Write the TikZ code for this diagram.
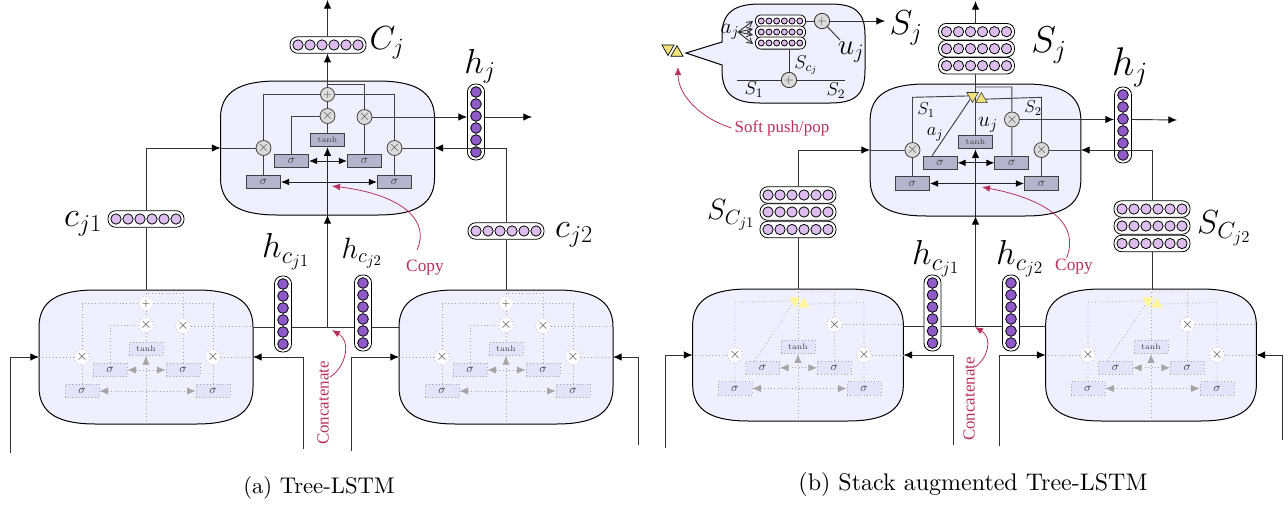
\RequirePackage{fix-cm}
\documentclass[tikz,border=0pt]{standalone}
\usepackage{fontspec}
\usetikzlibrary{arrows.meta,shapes.geometric,calc}
\newfontfamily\tms{Liberation Serif}
\definecolor{cellbg}{HTML}{EEF0FF}
\definecolor{lila}{HTML}{DDBDEE}
\definecolor{purp}{HTML}{8E5BC9}
\definecolor{pinkc}{HTML}{B8305F}
\definecolor{sigfill}{HTML}{B4B4CC}
\definecolor{sigfade}{HTML}{E2E5FA}
\definecolor{yel}{HTML}{F0E27A}
\definecolor{yelfade}{HTML}{FFF59A}
\tikzset{
  x=0.75pt,y=-0.75pt,
  tip/.style={-{Latex[length=6.5pt,width=5.6pt,black]}},
  ln/.style={line width=0.7pt,draw=black!80},
  conn/.style={ln,tip},
  cellbody/.style={draw=black,line width=0.75pt,fill=cellbg},
  live/.style={
    wire/.style={line width=0.7pt,draw=black!75},
    dblw/.style={line width=0.7pt,draw=black!85,{Latex[length=6pt,width=5pt,black]}-{Latex[length=6pt,width=5pt,black]}},
    upw/.style={line width=0.7pt,draw=black!85,-{Latex[length=6.5pt,width=5.6pt,black]}},
    opn/.style={circle,draw=black!75,fill=black!14,line width=0.6pt,inner sep=0,minimum size=10.5pt,text=black!70,font=\fontsize{11}{11}\selectfont},
    opnp/.style={opn,font=\fontsize{8}{8}\selectfont},
    sig/.style={draw=black!75,fill=sigfill,line width=0.8pt,inner sep=0,minimum width=25.5pt,minimum height=10pt,text=black!75,font=\fontsize{9}{9}\selectfont},
    tanhbox/.style={sig,font=\fontsize{6}{6}\selectfont},
    triD/.style={regular polygon,regular polygon sides=3,shape border rotate=180,draw=black!80,fill=yel,line width=0.4pt,inner sep=0,minimum size=10pt},
    triU/.style={regular polygon,regular polygon sides=3,draw=black!80,fill=yel,line width=0.4pt,inner sep=0,minimum size=10pt}},
  fade/.style={
    wire/.style={line width=0.6pt,draw=black!35,dotted},
    dblw/.style={line width=0.6pt,draw=black!35,dotted,{Latex[length=6.5pt,width=5.5pt,fill=black!35,black!35]}-{Latex[length=6.5pt,width=5.5pt,fill=black!35,black!35]}},
    upw/.style={line width=0.6pt,draw=black!35,dotted,-{Latex[length=6.5pt,width=5.5pt,fill=black!35,black!35]}},
    opn/.style={circle,draw=black!35,dotted,fill=white,line width=0.5pt,inner sep=0,minimum size=10.5pt,text=black!75,font=\fontsize{11}{11}\selectfont},
    opnp/.style={opn,font=\fontsize{8}{8}\selectfont},
    sig/.style={draw=black!35,dotted,fill=sigfade,line width=0.5pt,inner sep=0,minimum width=25.5pt,minimum height=10pt,text=black!75,font=\fontsize{9}{9}\selectfont},
    tanhbox/.style={sig,font=\fontsize{6}{6}\selectfont},
    triD/.style={regular polygon,regular polygon sides=3,shape border rotate=180,fill=yelfade,inner sep=0,minimum size=10pt},
    triU/.style={regular polygon,regular polygon sides=3,fill=yelfade,inner sep=0,minimum size=10pt}},
  vecbox/.style={draw=black,fill=white,line width=0.6pt,rounded corners=#1,inner sep=0},
  vecbox/.default=5.9pt,
  dot/.style={circle,draw=black,line width=0.6pt,inner sep=0,minimum size=#1},
  mathlab/.style={inner sep=0,font=\fontsize{#1}{#1}\selectfont},
  mathlab/.default=26,
  pinktxt/.style={inner sep=0,text=pinkc,font=\fontsize{#1}{#1}\selectfont\tms},
  pinkarr/.style={draw=pinkc,line width=0.6pt,-{Latex[length=6pt,width=5pt]}},
  insetop/.style={circle,draw=black!80,fill=black!14,line width=0.6pt,inner sep=0,minimum size=11.5pt,text=black!70,font=\fontsize{9}{9}\selectfont},
  captxt/.style={inner sep=0,font=\fontsize{10}{12}\selectfont,scale=#1}
}
\pgfdeclarelayer{wires}
\pgfdeclarelayer{bodies}
% name, x, y, fill, spacing (px)
\newcommand\hvec[5]{%
  \node[vecbox={(#5+4.5)*0.35pt},minimum width={(6*#5+4)*0.75pt},minimum height={(#5+4.5)*0.75pt}] (#1) at (#2,#3) {};
  \foreach \i in {1,...,6}{\node[dot={(#5-1.7)*0.75pt},fill=#4] (#1c\i) at ($(#2,#3)+({(\i-3.5)*#5},0)$) {};}%
}
\newcommand\vvec[3]{%
  \node[vecbox,minimum width=12.8pt,minimum height=57pt] (#1) at (#2,#3) {};
  \foreach \i in {1,...,6}{\node[dot=8pt,fill=purp] (#1c\i) at ($(#2,#3)+(0,{(\i-3.5)*12})$) {};}%
}
% prefix,x,y,scale,type(0 plus / 1 stack)
\newcommand\lstmcell[5]{%
\begin{scope}[shift={(#2,#3)},scale=#4]
  \begin{pgfonlayer}{bodies}
  \path[cellbody] (-107,-30) .. controls (-107,-58) and (-85,-67) .. (-50,-67) -- (50,-67)
     .. controls (85,-67) and (107,-58) .. (107,-30) -- (107,30)
     .. controls (107,58) and (85,67) .. (50,67) -- (-50,67)
     .. controls (-85,67) and (-107,58) .. (-107,30) -- cycle;
  \end{pgfonlayer}
  \pgfmathsetmacro\cellw{214*#4*0.75}\pgfmathsetmacro\cellh{134*#4*0.75}
  \node[inner sep=0,outer sep=0,minimum width=\cellw pt,minimum height=\cellh pt] (#1) at (0,0) {};
  \coordinate (#1top) at (0,-53.5);
  \coordinate (#1hi) at (0,-64);
  \coordinate (#1r) at (107,0);
  \coordinate (#1l) at (-107,0);
  \coordinate (#1ro) at (107,-31);
  \coordinate (#1b) at (0,67);
  \coordinate (#1t) at (0,-67);
  \node[tanhbox] (#1tanh) at (0,-8) {tanh};
  \node[sig] (#1sil) at (-36,13) {$\sigma$};
  \node[sig] (#1sir) at (37,13) {$\sigma$};
  \node[sig] (#1sol) at (-64,34) {$\sigma$};
  \node[sig] (#1sor) at (67,34) {$\sigma$};
  \node[opn] (#1tl) at (-64,0) {$\times$};
  \node[opn] (#1tf) at (67,0) {$\times$};
  \node[opn] (#1tr) at (37,-31) {$\times$};
  \ifnum#5=0
    \node[opnp] (#1p) at (#1top) {$+$};
    \node[opn] (#1tt) at (0,-32) {$\times$};
  \else
    \node[triD] (#1pd) at (-3,-55) {};
    \node[triU] (#1pu) at (6,-51.5) {};
  \fi
  \begin{pgfonlayer}{wires}
    \draw[wire] (#1sol) -- (#1tl);
    \draw[wire] (#1sor) -- (#1tf);
    \draw[wire] (#1sir) -- (#1tr);
    \draw[wire] (#1tl) -- (#1l);
    \draw[wire] (#1tf) -- (#1r);
    \draw[wire] (#1tr) -- (#1ro);
    \draw[wire] (#1tr) -- (#1tr |- #1hi) -- (#1hi);
    \ifnum#5=0
      \draw[wire] (#1t) -- (#1p);
      \draw[wire] (#1p) -- (#1tt);
      \draw[wire] (#1tt) -- (#1tanh);
      \draw[wire] (#1sil) -- (#1sil |- #1tt) -- (#1tt);
      \draw[wire] (#1tl) -- (#1tl |- #1p) -- (#1p);
      \draw[wire] (#1tf) -- (#1tf |- #1p) -- (#1p);
    \else
      \draw[wire] (#1t) -- (#1tanh);
      \draw[wire] (#1tl) -- (#1tl |- #1top) -- (#1pd);
      \draw[wire] (#1tf) -- (#1tf |- #1top) -- (#1pu);
      \draw[wire] (#1sil.north) ++(-8,0) -- (#1pd);
    \fi
    \draw[dblw] (#1sil) -- (#1sir);
    \draw[dblw] (#1sol) -- (#1sor);
    \draw[upw] (#1b) -- (#1tanh);
  \end{pgfonlayer}
\end{scope}}
\begin{document}
\begin{tikzpicture}
\useasboundingbox (0,0) rectangle (1288,508);
\pgfsetlayers{bodies,wires,main}
% ---------- (a)
\begin{scope}[live]\lstmcell{A}{327.5}{148}{1}{0}\end{scope}
\begin{scope}[fade]\lstmcell{L}{146}{357}{1}{0}\lstmcell{R}{506}{357}{1}{0}\end{scope}
\hvec{Cj}{328}{45}{lila}{12}
\hvec{cone}{146}{219}{lila}{12}
\hvec{ctwo}{506}{231}{lila}{12}
\vvec{hj}{476}{122}
\vvec{hone}{283}{314}
\vvec{htwo}{363}{313}
\coordinate (topA) at (327.5,0);
\coordinate (joinA) at (327.5,327);
\coordinate (outA) at (532,117);
\coordinate (inLa) at (10,453);\coordinate (inLb) at (303,449);
\coordinate (inRa) at (351,451);\coordinate (inRb) at (638,445);
\draw[conn] (A.north -| topA) -- (Cj.south -| topA);
\draw[conn] (Cj.north -| topA) -- (topA);
\draw[conn] (joinA) -- (A.south -| topA);
\draw[ln] (cone.south) -- (L.north -| cone);
\draw[ln] (ctwo.south) -- (R.north -| ctwo);
\draw[conn] (cone.north) -- (cone.north |- A.west) -- (A.west);
\draw[conn] (ctwo.north) -- (ctwo.north |- A.east) -- (A.east);
\draw[conn] (A.east |- Atr) -- (hj.west |- Atr);
\draw[conn] (hj.east |- Atr) -- (outA);
\draw[ln] (L.east |- joinA) -- (hone.west |- joinA);
\draw[ln] (hone.east |- joinA) -- (htwo.west |- joinA);
\draw[ln] (htwo.east |- joinA) -- (R.west |- joinA);
\draw[conn] (inLa) -- (inLa |- L.west) -- (L.west);
\draw[conn] (inLb) -- (inLb |- L.east) -- (L.east);
\draw[conn] (inRa) -- (inRa |- R.west) -- (R.west);
\draw[conn] (inRb) -- (inRb |- R.east) -- (R.east);
\node[mathlab=25] (lCj) at (387,43) {$C_j$};
\node[mathlab] (lhj) at (480,66) {$h_j$};
\node[mathlab] (lc1) at (83,224) {$c_{j1}$};
\node[mathlab] (lc2) at (574,235) {$c_{j2}$};
\node[mathlab] (lh1) at (286,252) {$h_{c_{j1}}$};
\node[mathlab=22] (lh2) at (362,253) {$h_{c_{j2}}$};
\node[pinktxt=13] (tcopyA) at (425,268) {Copy};
\node[pinktxt=12.7,rotate=90] (tconcA) at (323,403) {Concatenate};
\coordinate (copyAstart) at (417,250);
\coordinate (copyAend) at (332,186);
\coordinate (concAstart) at (330,377);
\coordinate (concAend) at (332,330);
\draw[pinkarr] (copyAstart) .. controls (430,222) and (405,195) .. (copyAend);
\draw[pinkarr] (concAstart) .. controls (345,368) and (352,342) .. (concAend);
\node[captxt=1.7] (capa) at (319,488) {(a) Tree-LSTM};
% ---------- (b)
\begin{scope}[live]\lstmcell{B}{975.5}{150}{0.985}{1}\end{scope}
\begin{scope}[fade]\lstmcell{M}{798}{355}{0.985}{1}\lstmcell{N}{1151}{355}{0.985}{1}\end{scope}
\hvec{Sa}{976.5}{31.7}{lila}{12}\hvec{Sb}{976.5}{48.7}{lila}{12}\hvec{Sc}{976.5}{65.7}{lila}{12}
\hvec{Pa}{798}{195}{lila}{12}\hvec{Pb}{798}{212}{lila}{12}\hvec{Pc}{798}{229.5}{lila}{12}
\hvec{Qa}{1152}{209}{lila}{12}\hvec{Qb}{1152}{226}{lila}{12}\hvec{Qc}{1152}{243.5}{lila}{12}
\vvec{hb}{1123}{125}
\vvec{hbone}{932.5}{313}
\vvec{hbtwo}{1011}{313}
\coordinate (topB) at (975.5,1);
\coordinate (joinB) at (975.5,326);
\coordinate (outB) at (1177,120);
\coordinate (inMa) at (665,448);\coordinate (inMb) at (953,445);
\coordinate (inNa) at (999,446);\coordinate (inNb) at (1282,440);
\draw[ln] (B.north -| topB) -- (Sc.south -| topB);
\draw[conn] (Sa.north -| topB) -- (topB);
\draw[conn] (joinB) -- (B.south -| topB);
\draw[ln] (Pc.south) -- (M.north -| Pc);
\draw[ln] (Qc.south) -- (N.north -| Qc);
\draw[conn] (Pa.north) -- (Pa.north |- B.west) -- (B.west);
\draw[conn] (Qa.north) -- (Qa.north |- B.east) -- (B.east);
\draw[conn] (B.east |- Btr) -- (hb.west |- Btr);
\draw[conn] (hb.east |- Btr) -- (outB);
\draw[ln] (M.east |- joinB) -- (hbone.west |- joinB);
\draw[ln] (hbone.east |- joinB) -- (hbtwo.west |- joinB);
\draw[ln] (hbtwo.east |- joinB) -- (N.west |- joinB);
\draw[conn] (inMa) -- (inMa |- M.west) -- (M.west);
\draw[conn] (inMb) -- (inMb |- M.east) -- (M.east);
\draw[conn] (inNa) -- (inNa |- N.west) -- (N.west);
\draw[conn] (inNb) -- (inNb |- N.east) -- (N.east);
\node[mathlab=28] (lSj) at (1049,45) {$S_j$};
\node[mathlab=30] (lhb) at (1130,67) {$h_j$};
\node[mathlab=22] (lP) at (731,215) {$S_{C_{j1}}$};
\node[mathlab=25] (lQ) at (1224,228) {$S_{C_{j2}}$};
\node[mathlab] (lhb1) at (936,259) {$h_{c_{j1}}$};
\node[mathlab] (lhb2) at (1020,259) {$h_{c_{j2}}$};
\node[mathlab=13] (bS1) at (926,110) {$S_1$};
\node[mathlab=14] (baj) at (935,134) {$a_j$};
\node[mathlab=16] (buj) at (988,125) {$u_j$};
\node[mathlab=13] (bS2) at (1033,108) {$S_2$};
\node[pinktxt=13] (tcopyB) at (1074,267) {Copy};
\node[pinktxt=12.7,rotate=90] (tconcB) at (969,399) {Concatenate};
\coordinate (copyBstart) at (1066.5,258);
\coordinate (copyBend) at (982,187);
\coordinate (concBstart) at (975,367);
\coordinate (concBend) at (975,327);
\draw[pinkarr] (copyBstart) .. controls (1080,225) and (1050,200) .. (copyBend);
\draw[pinkarr] (concBstart) .. controls (988,358) and (993,338) .. (concBend);
\node[captxt=1.8] (capb) at (973,484) {(b) Stack augmented Tree-LSTM};
% ---------- inset
\path[cellbody] (722,35) .. controls (722,12) and (735,4) .. (760,4) -- (830,4)
   .. controls (855,4) and (865,12) .. (865,35) -- (865,70)
   .. controls (865,95) and (855,103) .. (830,103) -- (760,103)
   .. controls (735,103) and (722,95) .. (722,70) -- (722,65) -- (686,53) -- (722,42) -- cycle;
\node[regular polygon,regular polygon sides=3,shape border rotate=180,draw=black,fill=yel,line width=0.5pt,inner sep=0,minimum size=10.5pt] (ptd) at (668,48.5) {};
\node[regular polygon,regular polygon sides=3,draw=black,fill=yel,line width=0.5pt,inner sep=0,minimum size=10.5pt] (ptu) at (677,52.7) {};
\hvec{Ia}{780.5}{21}{lila}{7.7}\hvec{Ib}{780.5}{32}{lila}{7.7}\hvec{Ic}{780.5}{43}{lila}{7.7}
\node[insetop] (Ip) at (822,21) {$+$};
\node[insetop] (Iq) at (789,80) {$+$};
\coordinate (Iout) at (885,21);\coordinate (Ius) at (840,40);
\coordinate (Il) at (737,80);\coordinate (Ir) at (845,80);
\coordinate (Iaj) at (738,32);
\draw[ln] (Ia) -- (Ip);
\draw[conn] (Ip) -- (Iout);
\draw[ln] (Ip) -- (Ius);
\draw[ln] (Il) -- (Iq);\draw[ln] (Iq) -- (Ir);
\draw[ln] (Iq) -- (Iq |- Ic.south);
\foreach \yy in {21,29,35,44}{\draw[ln,-{Straight Barb[length=4pt,width=4.5pt]}] (Iaj) -- (753,\yy);}
\node[mathlab=16] (Iajl) at (730,32) {$a_j$};
\node[mathlab=14] (Iscl) at (806,65) {$S_{c_j}$};
\node[mathlab=14] (IS1) at (754,90) {$S_1$};
\node[mathlab=14] (IS2) at (836,91) {$S_2$};
\node[mathlab=22] (Iujl) at (851,52) {$u_j$};
\node[mathlab=26] (ISj) at (906,28) {$S_j$};
\node[pinktxt=12.7] (tsoft) at (782,128) {Soft push/pop};
\coordinate (softend) at (678,67);
\draw[pinkarr] (tsoft.west) ++(-3,0) .. controls (700,118) and (678,95) .. (softend);
\end{tikzpicture}
\end{document}
